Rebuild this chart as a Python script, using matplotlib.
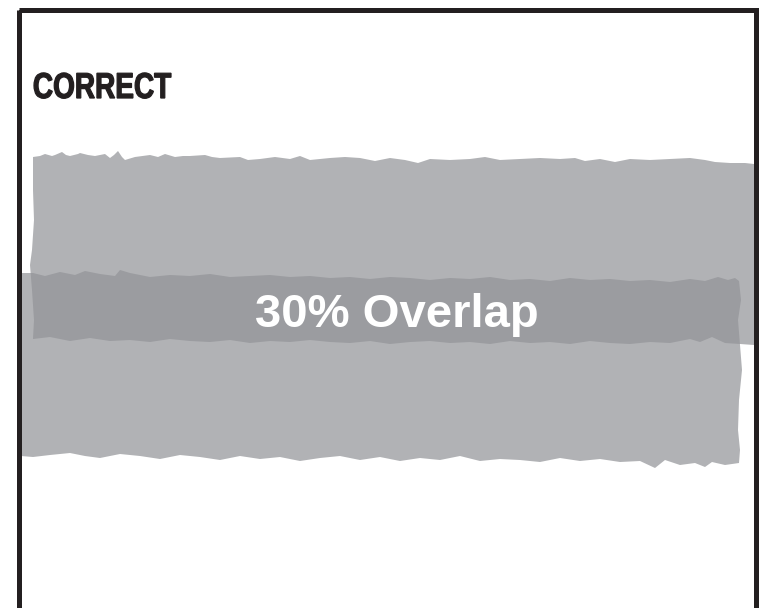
import matplotlib.pyplot as plt
from matplotlib.patches import Polygon, Rectangle, PathPatch
from matplotlib.textpath import TextPath
from matplotlib.font_manager import FontProperties
from matplotlib.transforms import Affine2D

# torn paper strips, edges (pixel coords, y downwards)
upper_top_x = [33, 40, 45, 52, 55, 62, 66, 70, 78, 80, 88, 95, 105, 110, 114, 118, 122, 125,
               135, 150, 158, 165, 175, 183, 190, 205, 212, 220, 240, 248, 260, 275, 290, 300,
               310, 330, 345, 360, 375, 390, 405, 418, 430, 450, 470, 485, 500, 520, 540, 560,
               575, 585, 600, 615, 630, 650, 670, 690, 705, 715, 730, 745, 754]
upper_top_y = [157, 156, 154, 156, 155, 152, 155, 156, 154, 153, 155, 156, 154, 158, 155, 151,
               157, 160, 157, 155, 157, 154, 157, 156, 156, 155, 157, 158, 157, 160, 159, 157,
               159, 156, 160, 158, 157, 158, 161, 158, 160, 163, 159, 160, 159, 157, 160, 159,
               158, 159, 158, 161, 159, 162, 159, 160, 159, 158, 160, 162, 163, 163, 164]
upper_bottom_x = [754, 740, 725, 712, 700, 690, 670, 650, 630, 610, 590, 570, 550, 530, 510,
                  490, 470, 450, 430, 410, 390, 370, 350, 330, 310, 290, 270, 250, 230, 210,
                  190, 170, 150, 130, 110, 90, 70, 50, 33]
upper_bottom_y = [345, 344, 343, 337, 342, 339, 343, 342, 344, 343, 341, 344, 342, 343, 341,
                  344, 342, 343, 341, 342, 344, 341, 343, 342, 340, 342, 341, 343, 340, 342,
                  341, 339, 342, 340, 341, 338, 341, 337, 339]
upper_left_x = [33, 34, 32, 30, 32, 34, 33]
upper_left_y = [339, 320, 290, 265, 250, 220, 190]

lower_top_x = [21, 33, 45, 60, 75, 85, 100, 115, 120, 130, 150, 170, 190, 210, 230, 250, 270,
               290, 310, 330, 350, 370, 390, 410, 430, 450, 470, 490, 510, 530, 550, 570,
               590, 610, 630, 650, 670, 690, 705, 718, 728, 735, 739]
lower_top_y = [273, 273, 276, 272, 275, 271, 274, 276, 270, 273, 277, 275, 276, 274, 277, 276,
               275, 277, 276, 278, 277, 279, 277, 278, 280, 278, 279, 277, 280, 279, 281, 278,
               280, 279, 281, 280, 282, 279, 281, 277, 280, 278, 281]
lower_right_x = [741, 738, 740, 742, 739, 738, 740, 739]
lower_right_y = [300, 320, 345, 370, 400, 430, 450, 463]
lower_bottom_x = [739, 725, 712, 705, 695, 680, 665, 655, 640, 620, 600, 580, 560, 540, 520,
                  500, 480, 460, 440, 420, 400, 380, 360, 340, 320, 300, 280, 260, 240, 220,
                  200, 180, 160, 140, 120, 100, 85, 70, 50, 33, 21]
lower_bottom_y = [463, 465, 462, 467, 463, 465, 460, 468, 461, 462, 459, 461, 458, 462, 460,
                  459, 461, 456, 460, 458, 461, 457, 460, 456, 458, 461, 457, 459, 456, 460,
                  457, 455, 459, 456, 454, 458, 456, 453, 455, 457, 456]

title = "CORRECT"
overlap_label = "30% Overlap"

light = "#b1b2b5"
dark = "#9b9ca0"
ink = "#231f20"

fig = plt.figure(figsize=(7.61, 6.08), dpi=100)
ax = fig.add_axes([0, 0, 1, 1])
ax.set_xlim(0, 761)
ax.set_ylim(608, 0)
ax.axis("off")

upper_pts = (list(zip(upper_top_x, upper_top_y)) + list(zip(upper_bottom_x, upper_bottom_y))
             + list(zip(upper_left_x, upper_left_y)))
lower_pts = (list(zip(lower_top_x, lower_top_y)) + list(zip(lower_right_x, lower_right_y))
             + list(zip(lower_bottom_x, lower_bottom_y)))

lower = Polygon(lower_pts, closed=True, facecolor=light, edgecolor="none", zorder=1)
ax.add_patch(lower)
ax.add_patch(Polygon(upper_pts, closed=True, facecolor=light, edgecolor="none", zorder=1))
# overlap area: the upper strip again, darker, clipped to the lower strip
over = Polygon(upper_pts, closed=True, facecolor=dark, edgecolor="none", zorder=2)
ax.add_patch(over)
over.set_clip_path(lower)

# condensed heavy heading: squeeze a bold text path horizontally
tp = TextPath((0, 0), title, size=36,
              prop=FontProperties(family="Liberation Sans", weight="bold"))
ext = tp.get_extents()
sx = 137 / ext.width
tr = Affine2D().translate(-ext.x0, 0).scale(sx, -1).translate(34, 98) + ax.transData
ax.add_patch(PathPatch(tp, facecolor=ink, edgecolor=ink, linewidth=0.9, transform=tr,
                       zorder=3))

ax.text(397, 327, overlap_label, fontsize=34, fontweight="bold", color="white",
        family=["Liberation Sans", "DejaVu Sans"], va="baseline", ha="center", zorder=3)

ax.add_patch(Rectangle((18.5, 9.5), 737, 640, facecolor="none", edgecolor=ink,
                       linewidth=3.6, zorder=4, clip_on=False))

plt.savefig("out.png", dpi=100)
